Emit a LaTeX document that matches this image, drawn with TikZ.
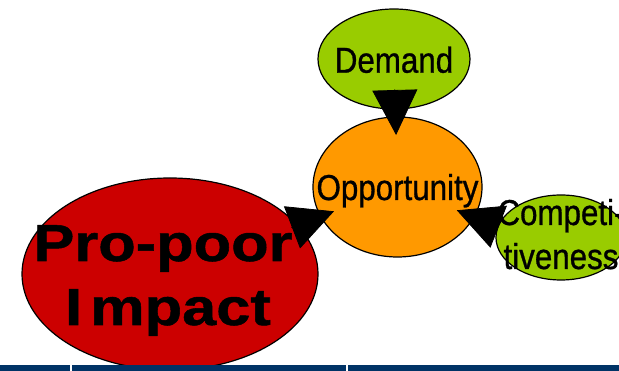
\documentclass[tikz,border=0pt]{standalone}
\usepackage{fontspec}
\usetikzlibrary{arrows.meta,shapes.geometric}
\newfontfamily\narrowsans[FakeStretch=0.87,FakeBold=0.8]{Liberation Sans}
\newfontfamily\widebold[FakeStretch=1.18,FakeBold=1]{Liberation Sans}
\definecolor{leaf}{HTML}{99CC00}
\definecolor{amber}{HTML}{FF9900}
\definecolor{crimson}{HTML}{CC0000}
\definecolor{navy}{HTML}{003366}
\begin{document}
\begin{tikzpicture}[x=1pt,y=-1pt,
  blob/.style={ellipse,draw=black,line width=1.2pt,inner sep=0pt},
  txt/.style={font={\narrowsans\fontsize{36}{44}\selectfont},inner sep=0pt,anchor=base,align=center},
  bigtxt/.style={font={\widebold\bfseries\fontsize{52}{64}\selectfont},inner sep=0pt,anchor=base,align=center},
  bigarrow/.style={line width=0.8pt,-{Triangle[length=45pt,width=45pt]}},
  barseg/.style={fill=navy,draw=none}]
\useasboundingbox (0,0) rectangle (619,371);
\fill[white] (0,0) rectangle (619,371);
% ellipses
\node[blob,fill=crimson,minimum width=296pt,minimum height=192pt] (imp) at (170,274) {};
\node[blob,fill=leaf,minimum width=152pt,minimum height=100pt] (dem) at (394,59) {};
\node[blob,fill=amber,minimum width=169pt,minimum height=140pt] (opp) at (397.5,187) {};
\node[blob,fill=leaf,minimum width=130pt,minimum height=85pt] (comp) at (561,237.5) {};
% texts (base anchor = baseline of the last line)
\node[bigtxt,xshift=-2pt,yshift=-51pt] (impt) at (imp.center) {Pro-poor\kern10pt\\I\kern8pt mpact};
\node[txt,yshift=-13.7pt] (demt) at (dem.center) {Demand};
\node[txt,yshift=-13pt] (oppt) at (opp.center) {Opportunity};
\node[txt,yshift=-31.5pt] (compt) at (comp.center) {Competi-\\tiveness};
% connectors
\draw[bigarrow,shorten <=30.5pt,shorten >=52pt] (dem.center) -- (opp.center);
\draw[bigarrow,shorten <=130pt,shorten >=68pt] (imp.center) -- (opp.center);
\draw[bigarrow,shorten <=-1pt,shorten >=63.7pt] (comp.170) -- (opp.center);
% bottom bar
\fill[barseg] (0,365) rectangle (69.5,371);
\fill[barseg] (72,365) rectangle (345.5,371);
\fill[barseg] (348,365) rectangle (619,371);
\end{tikzpicture}
\end{document}
